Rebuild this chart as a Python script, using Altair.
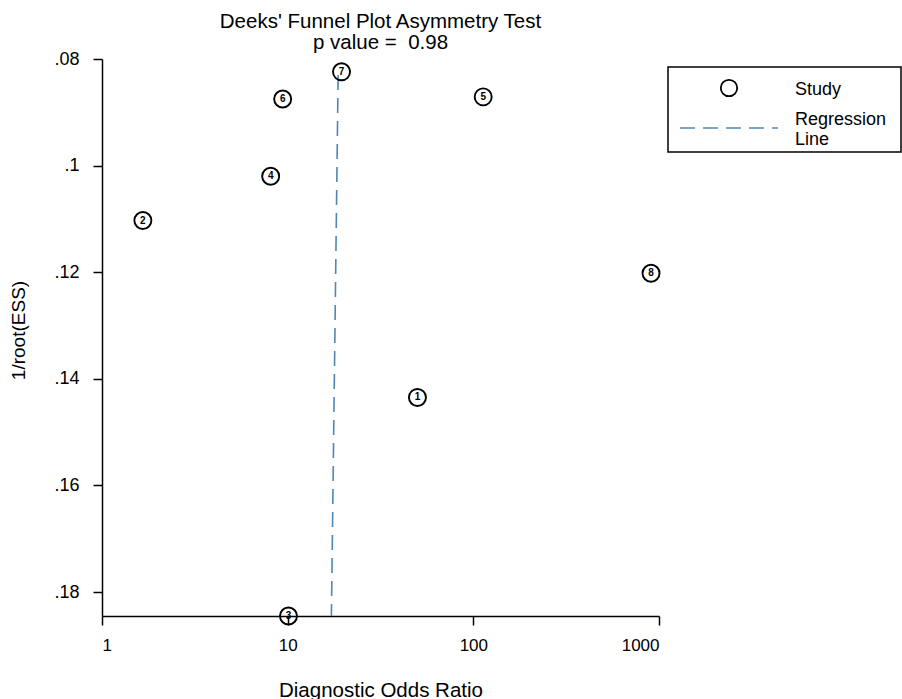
import altair as alt
import pandas as pd

# ---- data ----
study = ["1", "2", "3", "4", "5", "6", "7", "8"]
dor = [50.0, 1.66, 10.1, 8.1, 113.0, 9.4, 19.5, 906.0]
inv_root_ess = [0.1435, 0.1103, 0.1845, 0.1020, 0.0871, 0.0875, 0.0824, 0.1202]

reg_dor = [18.7, 17.2]
reg_y = [0.0830, 0.1845]

x_ticks = [1, 10, 100, 1000]
y_ticks = [0.08, 0.10, 0.12, 0.14, 0.16, 0.18]

title_lines = ["Deeks' Funnel Plot Asymmetry Test", "p value =\u00a0 0.98"]
legend_study = "Study"
legend_reg1 = "Regression"
legend_reg2 = "Line"

FONT = "Liberation Sans"
W, H = 557, 557

df = pd.DataFrame({"study": study, "dor": dor, "y": inv_root_ess})
reg = pd.DataFrame({"dor": reg_dor, "y": reg_y})

xscale = alt.Scale(type="log", domain=[1, 1000])
yscale = alt.Scale(domain=[0.08, 0.1845], reverse=True, zero=False, nice=False)

xaxis = alt.Axis(
    values=x_ticks, labelExpr="format(datum.value, 'd')",
    title="Diagnostic Odds Ratio", grid=False,
    labelFontSize=17, labelFont=FONT, labelColor="black", labelPadding=12,
    tickSize=9, tickWidth=1.5, tickColor="black",
    domainColor="black", domainWidth=1.5,
    titleFontSize=20.5, titleFont=FONT, titleFontWeight="normal", titleColor="black",
    titleX=W / 2, titleY=74, titleBaseline="middle", titleAlign="center",
)
yaxis = alt.Axis(
    values=y_ticks, labelExpr="replace(format(datum.value, '.2~f'), '0.', '.')",
    title="1/root(ESS)", grid=False,
    labelFontSize=18, labelFont=FONT, labelColor="black", labelPadding=14,
    tickSize=9, tickWidth=1.5, tickColor="black",
    domainColor="black", domainWidth=1.5,
    titleFontSize=19, titleFont=FONT, titleFontWeight="normal", titleColor="black",
    titleX=-84, titleY=271, titleAngle=-90, titleBaseline="middle", titleAlign="center",
)

base = alt.Chart(df)

regline = alt.Chart(reg).mark_line(
    color="#4f86b6", strokeWidth=1.6, strokeDash=[15, 8]
).encode(
    x=alt.X("dor:Q", scale=xscale, axis=xaxis),
    y=alt.Y("y:Q", scale=yscale, axis=yaxis),
    order=alt.Order("y:Q"),
)

points = base.mark_point(
    shape="circle", size=290, filled=False, color="black", strokeWidth=1.9, opacity=1
).encode(
    x=alt.X("dor:Q", scale=xscale),
    y=alt.Y("y:Q", scale=yscale),
)

labels = base.mark_text(
    font=FONT, fontSize=10, fontWeight="bold", color="black", baseline="middle", align="center"
).encode(
    x=alt.X("dor:Q", scale=xscale),
    y=alt.Y("y:Q", scale=yscale),
    text="study:N",
)

# ---- manual legend (positions in pixels relative to plot origin) ----
leg_df = pd.DataFrame({"k": [0]})
leg_box = alt.Chart(leg_df).mark_rect(
    fill="white", stroke="black", strokeWidth=1.5
).encode(x=alt.value(566), x2=alt.value(799), y=alt.value(8), y2=alt.value(93))

leg_sym = alt.Chart(leg_df).mark_point(
    shape="circle", size=270, filled=False, color="black", strokeWidth=1.8, opacity=1
).encode(x=alt.value(627), y=alt.value(29))

leg_study = alt.Chart(leg_df).mark_text(
    font=FONT, fontSize=18, align="left", baseline="middle", color="black"
).encode(x=alt.value(693), y=alt.value(31), text=alt.value(legend_study))

leg_line = alt.Chart(leg_df).mark_rule(
    color="#4f86b6", strokeWidth=1.6, strokeDash=[15, 8]
).encode(x=alt.value(578), x2=alt.value(676), y=alt.value(69))

leg_reg1 = alt.Chart(leg_df).mark_text(
    font=FONT, fontSize=18, align="left", baseline="middle", color="black"
).encode(x=alt.value(693), y=alt.value(61), text=alt.value(legend_reg1))

leg_reg2 = alt.Chart(leg_df).mark_text(
    font=FONT, fontSize=18, align="left", baseline="middle", color="black"
).encode(x=alt.value(693), y=alt.value(81), text=alt.value(legend_reg2))

chart = alt.layer(
    regline, points, labels, leg_box, leg_sym, leg_study, leg_line, leg_reg1, leg_reg2
).properties(
    width=W, height=H,
    title=alt.TitleParams(
        text=title_lines, font=FONT, fontSize=20.5, fontWeight="normal", color="black",
        anchor="middle", lineHeight=21, offset=-3,
    ),
    autosize=alt.AutoSizeParams(type="none"),
    padding={"left": 102, "top": 59, "right": 243, "bottom": 83},
).configure(
    background="white", view=alt.ViewConfig(stroke=None)
)

chart.save("out.html", embed_options={"renderer": "svg", "actions": False})
